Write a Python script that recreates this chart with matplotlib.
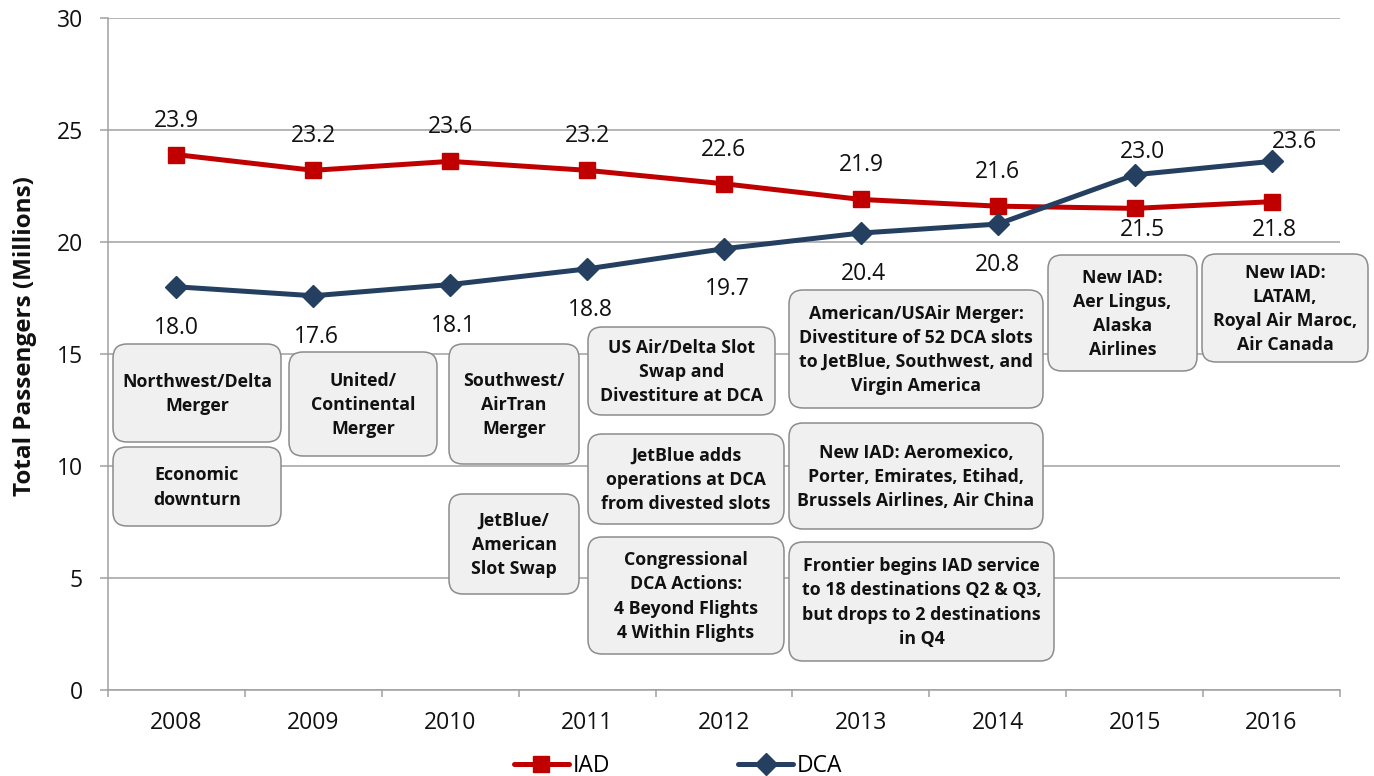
import matplotlib
matplotlib.use('Agg')
import numpy as np
import matplotlib.pyplot as plt
from matplotlib.patches import FancyBboxPatch
from matplotlib.transforms import Affine2D
from matplotlib.lines import Line2D

# ---------------- data ----------------
years = ['2008', '2009', '2010', '2011', '2012', '2013', '2014', '2015', '2016']
iad = [23.9, 23.2, 23.6, 23.2, 22.6, 21.9, 21.6, 21.5, 21.8]
dca = [18.0, 17.6, 18.1, 18.8, 19.7, 20.4, 20.8, 23.0, 23.6]
y_ticks = [0, 5, 10, 15, 20, 25, 30]
series_names = ['IAD', 'DCA']
y_label = 'Total Passengers (Millions)'

event_texts = [
    'Northwest/Delta\nMerger',
    'Economic\ndownturn',
    'United/\nContinental\nMerger',
    'Southwest/\nAirTran\nMerger',
    'JetBlue/\nAmerican\nSlot Swap',
    'US Air/Delta Slot\nSwap and\nDivestiture at DCA',
    'JetBlue adds\noperations at DCA\nfrom divested slots',
    'Congressional\nDCA Actions:\n4 Beyond Flights\n4 Within Flights',
    'American/USAir Merger:\nDivestiture of 52 DCA slots\nto JetBlue, Southwest, and\nVirgin America',
    'New IAD: Aeromexico,\nPorter, Emirates, Etihad,\nBrussels Airlines, Air China',
    'Frontier begins IAD service\nto 18 destinations Q2 & Q3,\nbut drops to 2 destinations\nin Q4',
    'New IAD:\nAer Lingus,\nAlaska\nAirlines',
    'New IAD:\nLATAM,\nRoyal Air Maroc,\nAir Canada',
]

# ---------------- layout (pixels) ----------------
FW, FH = 1374, 776
event_boxes = [  # x0, y0, x1, y1 in figure pixels (top-left origin)
    (113, 344, 281, 442),
    (113, 447, 281, 526),
    (289, 352, 437, 456),
    (449, 344, 579, 464),
    (449, 494, 579, 594),
    (588, 327, 775, 415),
    (588, 434, 784, 524),
    (588, 537, 784, 654),
    (789, 290, 1043, 408),
    (789, 423, 1043, 529),
    (789, 542, 1054, 661),
    (1048, 255, 1197, 371),
    (1202, 254, 1368, 362),
]
# label offsets in pixels (dx, dy downward positive)
iad_off = [(0, -34), (0, -34), (0, -34), (0, -34), (0, -34), (0, -34), (0, -34), (8, 22), (3, 28)]
dca_off = [(0, 41), (3, 41), (3, 41), (3, 41), (3, 40), (3, 41), (0, 41), (8, -23), (23, -19)]

IAD_C = '#C00000'
DCA_C = '#243F60'
GRID_C = '#A0A0A0'
FONT = 'Open Sans'
plt.rcParams['font.family'] = [FONT, 'DejaVu Sans']

fig = plt.figure(figsize=(FW / 100, FH / 100), dpi=100)
ax = fig.add_axes([108 / FW, 1 - 690 / FH, (1340 - 108) / FW, (690 - 18) / FH])
px = Affine2D().scale(1 / FW, -1 / FH).translate(0, 1) + fig.transFigure

x = np.arange(len(years))
ax.plot(x, iad, color=IAD_C, lw=3.6, marker='s', ms=12, mec=IAD_C, zorder=5,
        solid_joinstyle='miter')
ax.plot(x, dca, color=DCA_C, lw=3.6, marker='D', ms=11, mec=DCA_C, zorder=5,
        solid_joinstyle='miter')

k = 72 / 100
for xi, v, (dx, dy) in zip(x, iad, iad_off):
    ax.annotate(f'{v:.1f}', (xi, v), xytext=(dx * k, -dy * k), textcoords='offset points',
                ha='center', va='center', fontsize=16.5, color='#111111', zorder=6)
for xi, v, (dx, dy) in zip(x, dca, dca_off):
    ax.annotate(f'{v:.1f}', (xi, v), xytext=(dx * k, -dy * k), textcoords='offset points',
                ha='center', va='center', fontsize=16.5, color='#111111', zorder=6)

ax.set_xlim(-0.5, len(years) - 0.5)
ax.set_ylim(y_ticks[0], y_ticks[-1])
ax.set_yticks(y_ticks)
ax.set_xticks(x)
ax.set_xticklabels(years)
ax.set_xticks(np.arange(-0.5, len(years), 1), minor=True)
ax.tick_params(axis='x', which='major', length=0, pad=15, labelsize=16.5, labelcolor='#111111')
ax.tick_params(axis='x', which='minor', length=5, width=1.1, color=GRID_C, direction='out')
ax.tick_params(axis='y', length=6, width=1.1, color=GRID_C, direction='out', pad=12,
               labelsize=16.5, labelcolor='#111111')
ax.yaxis.grid(True, color=GRID_C, lw=1.1)
ax.set_axisbelow(True)
for s in ['top', 'right']:
    ax.spines[s].set_visible(False)
for s in ['left', 'bottom']:
    ax.spines[s].set_color(GRID_C)
    ax.spines[s].set_linewidth(1.1)

for (x0, y0, x1, y1), txt in zip(event_boxes, event_texts):
    patch = FancyBboxPatch((x0, y0), x1 - x0, y1 - y0,
                           boxstyle='round,pad=0,rounding_size=14',
                           transform=px, facecolor='#F0F0F0', edgecolor='#8C8C8C',
                           lw=1.1, clip_on=False, zorder=3)
    ax.add_artist(patch)
    ax.text((x0 + x1) / 2, (y0 + y1) / 2 + 1, txt, transform=px, ha='center', va='center',
            fontsize=12.8, fontweight='bold', color='#111111', linespacing=1.45,
            zorder=4, clip_on=False)

fig.text(25 / FW, 1 - 336 / FH, y_label, rotation=90, ha='center', va='center',
         fontsize=17.5, fontweight='bold', color='#111111')

handles = [
    Line2D([], [], color=IAD_C, lw=3.6, marker='s', ms=12, mec=IAD_C, solid_capstyle='round'),
    Line2D([], [], color=DCA_C, lw=3.6, marker='D', ms=11, mec=DCA_C, solid_capstyle='round'),
]
fig.legend(handles, series_names, loc='center', bbox_to_anchor=(678 / FW, 1 - 766 / FH),
           ncol=2, frameon=False, fontsize=16.5, handlelength=2.4, handletextpad=0.15,
           columnspacing=5.6, borderpad=0, borderaxespad=0)

fig.savefig('out.png', dpi=100)
